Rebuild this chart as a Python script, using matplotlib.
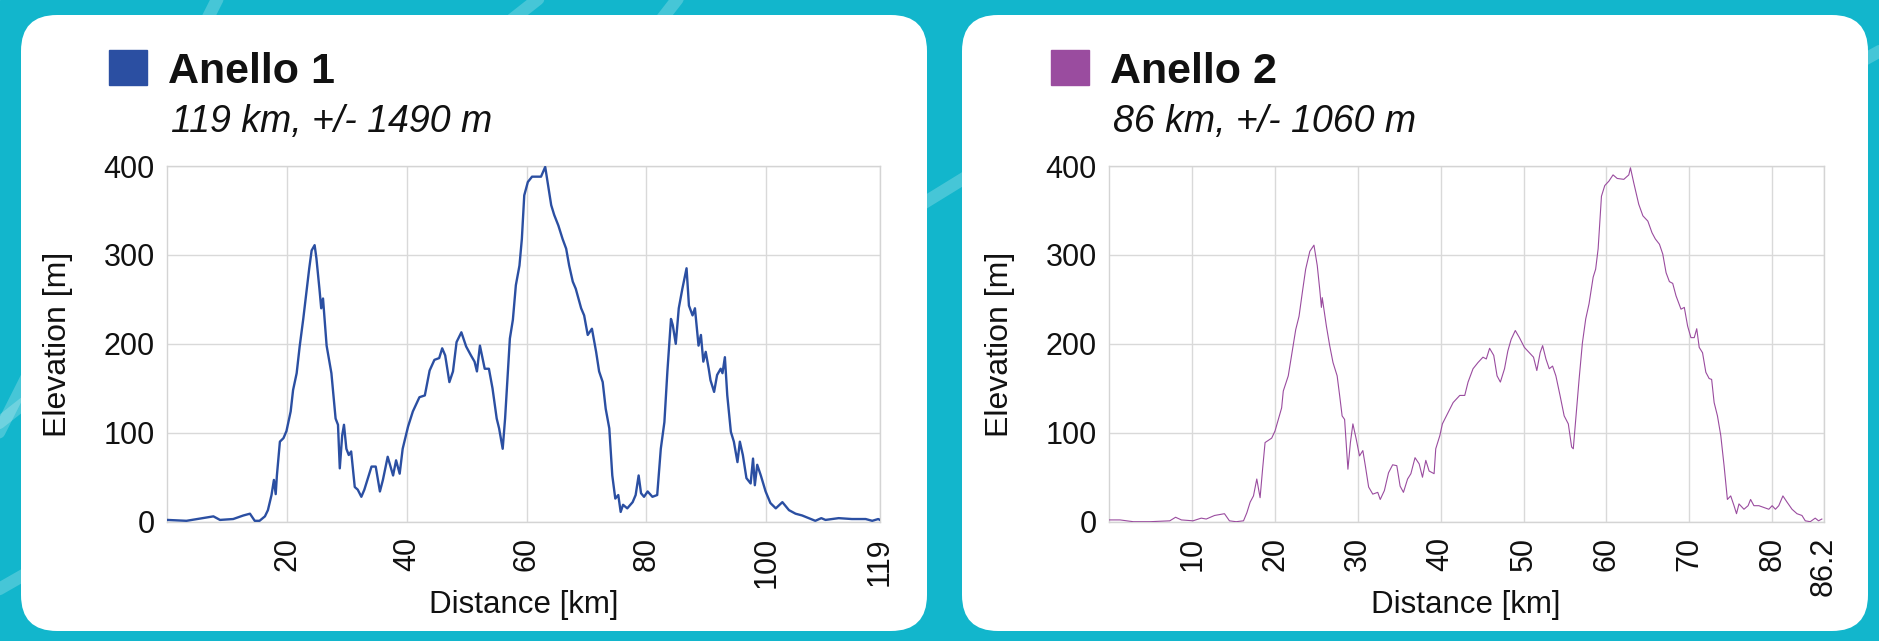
import matplotlib
matplotlib.use('Agg')
import matplotlib.pyplot as plt
from matplotlib.patches import FancyBboxPatch, Rectangle

plt.rcParams['font.family'] = ['Liberation Sans', 'DejaVu Sans']

# --- data ---
km1 = [0, 3.2, 7.7, 8.8, 11, 12.7, 13.8, 14.6, 15.4, 16.3, 16.8, 17.4, 17.8, 18.1, 18.3, 18.8, 19.4, 19.9,
       20.6, 21, 21.6, 22.1, 22.7, 23.2, 23.7, 24.1, 24.6, 24.9, 25.4, 25.7, 26, 26.6, 27.4, 28.1, 28.5, 28.8,
       29.2, 29.5, 29.9, 30.3, 30.7, 31.3, 31.8, 32.4, 32.9, 33.5, 34.1, 34.8, 35.5, 36, 36.8, 37.7, 38.2,
       38.8, 39.3, 40.2, 41, 42.1, 43, 43.8, 44.6, 45.4, 45.9, 46.4, 47.1, 47.7, 48.3, 49.1, 49.9, 50.7,
       51.3, 51.7, 52.2, 53, 53.7, 54.3, 55, 55.4, 56, 56.4, 56.8, 57.2, 57.7, 58.2, 58.8, 59.2, 59.6, 60.2,
       60.9, 61.6, 62.4, 63.1, 63.5, 64.1, 64.6, 65.3, 66, 66.6, 67.1, 67.7, 68.2, 69.1, 69.6, 70.2, 70.9,
       71.6, 72.1, 72.7, 73.2, 73.8, 74.3, 74.8, 75.3, 75.7, 76.1, 76.8, 77.7, 78.2, 78.7, 79.1, 79.6, 80.2,
       81, 81.8, 82.4, 83, 83.5, 84.1, 84.4, 84.9, 85.4, 86, 86.7, 87.1, 87.7, 88.1, 88.7, 89.1, 89.5, 89.9,
       90.4, 90.7, 91.3, 91.8, 92.4, 92.7, 93.1, 93.5, 94.1, 94.6, 95.2, 95.6, 96.1, 96.7, 97.4, 97.8, 98.1,
       98.5, 99.1, 99.9, 100.7, 101.6, 102.7, 103.8, 104.9, 106, 107.1, 108.2, 109.2, 109.9, 112.1, 114.3,
       116.6, 117.7, 118.7, 119]
elev1 = [2, 1, 6, 2, 3, 7, 9, 1, 1, 6, 13, 30, 47, 31, 52, 90, 94, 102,
         124, 148, 167, 197, 228, 257, 285, 305, 311, 296, 262, 240, 251, 198, 167, 116, 109, 60,
         97, 109, 82, 75, 79, 39, 36, 28, 36, 49, 62, 62, 34, 47, 73, 52, 69,
         54, 82, 107, 124, 140, 142, 170, 182, 184, 195, 187, 157, 169, 202, 213, 197, 187,
         180, 169, 198, 172, 172, 150, 116, 105, 82, 116, 161, 206, 227, 266, 288, 318, 367, 382,
         388, 388, 388, 399, 382, 356, 345, 333, 318, 307, 288, 270, 262, 240, 232, 210, 217,
         191, 169, 157, 127, 105, 52, 26, 30, 11, 19, 15, 22, 30, 52, 32, 28, 34,
         28, 30, 82, 112, 169, 228, 221, 200, 240, 262, 285, 243, 232, 240, 198, 210, 180, 191,
         172, 159, 146, 165, 172, 167, 185, 142, 101, 90, 67, 90, 75, 49, 43, 71, 41,
         64, 52, 34, 21, 15, 22, 13, 9, 7, 4, 1, 4, 2, 4, 3,
         3, 1, 3, 2]

km2 = [0, 1.3, 2.9, 4.9, 7.3, 8.0, 8.7, 10.1, 11.1, 11.7, 12.7, 13.9, 14.5, 15.3, 16.2, 16.6, 17.0, 17.4,
       17.8, 18.2, 18.5, 18.8, 19.6, 20, 20.4, 20.8, 21.0, 21.6, 22, 22.5, 22.9, 23.3, 23.7, 24.2, 24.7,
       25.1, 25.4, 25.6, 25.7, 26.2, 26.6, 27, 27.5, 27.8, 28.1, 28.4, 28.8, 29.1, 29.4, 29.8, 30.2, 30.6,
       30.9, 31.3, 31.8, 32.4, 32.7, 33.2, 33.7, 34.2, 34.7, 35.1, 35.5, 36, 36.4, 36.9, 37.4, 37.8, 38.2,
       38.6, 39.2, 39.4, 39.9, 40.2, 40.9, 41.5, 42.3, 42.9, 43.3, 43.9, 44.5, 45.1, 45.5, 45.9, 46.4,
       46.8, 47.2, 47.7, 48.1, 48.5, 49.0, 49.5, 50.1, 50.7, 51.2, 51.6, 52.0, 52.3, 52.7, 53.1, 53.5,
       53.9, 54.4, 54.9, 55.4, 55.8, 56, 56.3, 56.7, 57.1, 57.5, 57.9, 58.4, 58.7, 59.0, 59.4, 59.8, 60.3,
       60.8, 61.3, 62.1, 62.7, 62.9, 63.3, 63.9, 64.4, 65, 65.5, 65.9, 66.4, 66.8, 67.2, 67.6, 68, 68.4,
       69, 69.4, 69.8, 70.2, 70.6, 70.9, 71.2, 71.6, 72, 72.4, 72.7, 73, 73.4, 73.8, 74.2, 74.6, 75,
       75.4, 75.7, 76, 76.6, 77.1, 77.4, 77.8, 78.4, 79, 79.6, 80, 80.4, 80.8, 81.3, 81.8, 82.4, 83,
       83.6, 84, 84.6, 85.2, 85.6, 86]
elev2 = [2, 2, 0, 0, 1, 5, 2, 1, 4, 3, 7, 9, 1, 0, 1, 10, 22, 29,
         48, 27, 59, 89, 94, 102, 115, 128, 147, 164, 187, 216, 231, 258, 284, 304, 311,
         288, 261, 241, 252, 220, 198, 179, 164, 142, 119, 115, 59, 89, 110, 93, 74, 80,
         63, 39, 31, 33, 25, 35, 55, 64, 63, 40, 33, 48, 54, 72, 65, 50, 69,
         57, 54, 82, 97, 110, 123, 134, 142, 142, 157, 172, 179, 185, 183, 195, 187,
         164, 157, 172, 192, 205, 215, 207, 196, 190, 185, 170, 190, 198, 183, 172, 175,
         164, 142, 119, 110, 84, 82, 115, 160, 201, 228, 245, 275, 284, 307, 366, 378, 383,
         390, 386, 385, 390, 398, 381, 357, 344, 338, 325, 318, 312, 301, 280, 270, 268, 254,
         239, 241, 220, 207, 207, 217, 196, 190, 168, 161, 160, 134, 119, 97, 63, 25, 29,
         18, 9, 20, 14, 18, 25, 18, 18, 16, 14, 18, 14, 18, 29, 22, 14, 9,
         7, 1, 0, 4, 1, 3]

names = ['Anello 1', 'Anello 2']
subtitles = ['119 km, +/- 1490 m', '86 km, +/- 1060 m']
cols = ['#2b4fa2', '#9a4c9f']
xticks1 = [20, 40, 60, 80, 100, 119]
xticks2 = [10, 20, 30, 40, 50, 60, 70, 80, 86.2]
yticks = [0, 100, 200, 300, 400]

W, H = 1879, 641
fig = plt.figure(figsize=(W/100, H/100), dpi=100)

# background + cards, drawn in pixel coords
bg = fig.add_axes([0, 0, 1, 1], zorder=0)
bg.set_xlim(0, W)
bg.set_ylim(H, 0)
bg.axis('off')
bg.add_patch(Rectangle((0, 0), W, H, color='#12b6cc'))
# light swooshes in the background
streaks = [([232, -30], [-20, 470]), ([575, -30], [-10, 430]), ([700, -30], [420, 330]),
           ([1010, 150], [880, 230]), ([1900, 40], [1700, 150]), ([120, 520], [-20, 600])]
for (x0, y0), (x1, y1) in streaks:
    bg.plot([x0, x1], [y0, y1], color='white', alpha=0.22, lw=9, solid_capstyle='round')

cards = [(21, 15, 906, 616), (962, 15, 906, 616)]
for (cx, cy, cw, ch) in cards:
    bg.add_patch(FancyBboxPatch((cx, cy), cw, ch, boxstyle='round,pad=0,rounding_size=36',
                                fc='white', ec='none'))

heads = [(109, 1111), ]
for i, x0 in enumerate([109, 1051]):
    bg.add_patch(Rectangle((x0, 50), 38, 35, color=cols[i]))
    bg.text(x0 + 59, 83, names[i], fontsize=31, fontweight='bold', va='baseline', ha='left', color='#111111')
    bg.text(x0 + 62, 132, subtitles[i], fontsize=27, style='italic', va='baseline', ha='left', color='#111111')

# profile plots
ax1 = fig.add_axes([167.3/W, 1 - 521.7/H, 712.7/W, 355.7/H], zorder=2)
ax2 = fig.add_axes([1109.3/W, 1 - 521.7/H, 714.2/W, 355.7/H], zorder=2)

for ax, km, el, c, lw, xt, xmax in [(ax1, km1, elev1, cols[0], 1.7, xticks1, 119),
                                     (ax2, km2, elev2, cols[1], 0.8, xticks2, 86.2)]:
    ax.plot(km, el, color=c, lw=lw, zorder=3)
    ax.set_xlim(0, xmax)
    ax.set_ylim(0, 400)
    ax.set_yticks(yticks)
    ax.set_xticks(xt)
    ax.set_xticklabels([('%g' % t) for t in xt], rotation=90)
    ax.grid(True, color='#d9d9d9', lw=1.0)
    ax.set_axisbelow(True)
    for s in ax.spines.values():
        s.set_color('#d4d4d4')
        s.set_linewidth(1.0)
    ax.tick_params(axis='both', length=0, labelsize=22, colors='#111111')
    ax.tick_params(axis='y', pad=9)
    ax.tick_params(axis='x', pad=11)
    ax.set_facecolor('white')

for xm in [58, 1000]:
    bg.text(xm, 344, 'Elevation [m]', rotation=90, fontsize=23, ha='center', va='center', color='#111111')
for xm in [523.5, 1466]:
    bg.text(xm, 613, 'Distance [km]', fontsize=22.5, ha='center', va='baseline', color='#111111')

plt.savefig('out.png', dpi=100)
